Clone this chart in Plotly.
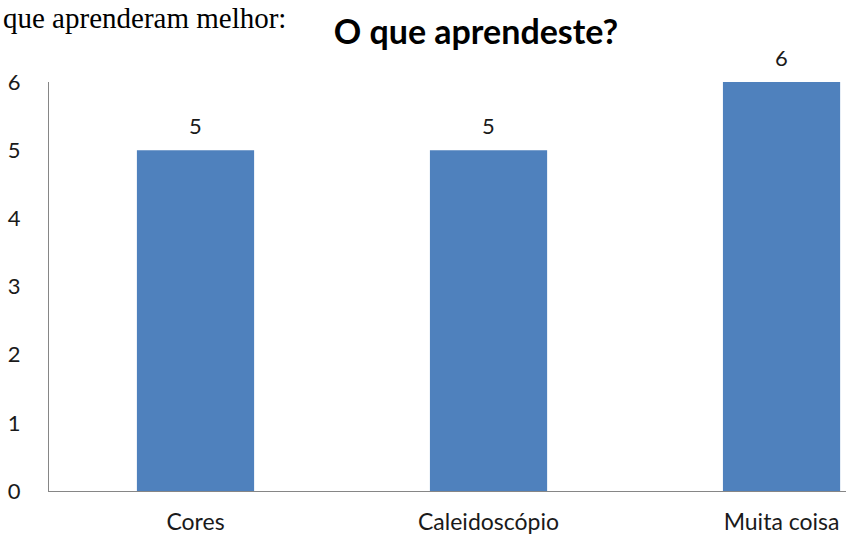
import plotly.graph_objects as go

categories = ["Cores", "Caleidoscópio", "Muita coisa"]
values = [5, 5, 6]
y_ticks = [0, 1, 2, 3, 4, 5, 6]

font_family = "Lato, Open Sans, sans-serif"
text_color = "#1a1a1a"

fig = go.Figure(
    go.Bar(
        x=categories,
        y=values,
        marker=dict(color="#4F81BD", line=dict(width=0)),
        width=0.4,
        cliponaxis=False,
    )
)

# value labels sitting above each bar
value_labels = [
    dict(
        x=c,
        y=v,
        xref="x",
        yref="y",
        text=str(v),
        showarrow=False,
        yanchor="bottom",
        yshift=9,
        font=dict(family=font_family, size=22, color=text_color),
    )
    for c, v in zip(categories, values)
]

fig.update_layout(
    width=846,
    height=537,
    margin=dict(l=49, r=0, t=82, b=46, autoexpand=False),
    paper_bgcolor="white",
    plot_bgcolor="white",
    showlegend=False,
    title=dict(
        text="<b>O que aprendeste?</b>",
        x=0.5626,
        xanchor="center",
        y=0.94,
        yanchor="middle",
        font=dict(family=font_family, size=34, color="#000000"),
    ),
    annotations=value_labels
    + [
        dict(
            text="que aprenderam melhor:",
            xref="paper",
            yref="paper",
            x=-0.0605,
            xanchor="left",
            y=1.2005,
            yanchor="top",
            showarrow=False,
            font=dict(family="Liberation Serif, Times New Roman, serif", size=29, color="#000000"),
        )
    ],
)

fig.update_xaxes(
    range=[-0.5, 2.22],
    automargin=False,
    showline=True,
    linecolor="#868686",
    linewidth=1,
    ticks="",
    showgrid=False,
    tickfont=dict(family=font_family, size=23, color=text_color),
    ticklabelstandoff=10,
)

fig.update_yaxes(
    range=[0, 6],
    tickvals=y_ticks,
    automargin=False,
    showline=True,
    linecolor="#868686",
    linewidth=1,
    ticks="",
    showgrid=False,
    zeroline=False,
    tickfont=dict(family=font_family, size=22, color=text_color),
    ticklabelstandoff=23,
)

fig.write_html("out.html")
